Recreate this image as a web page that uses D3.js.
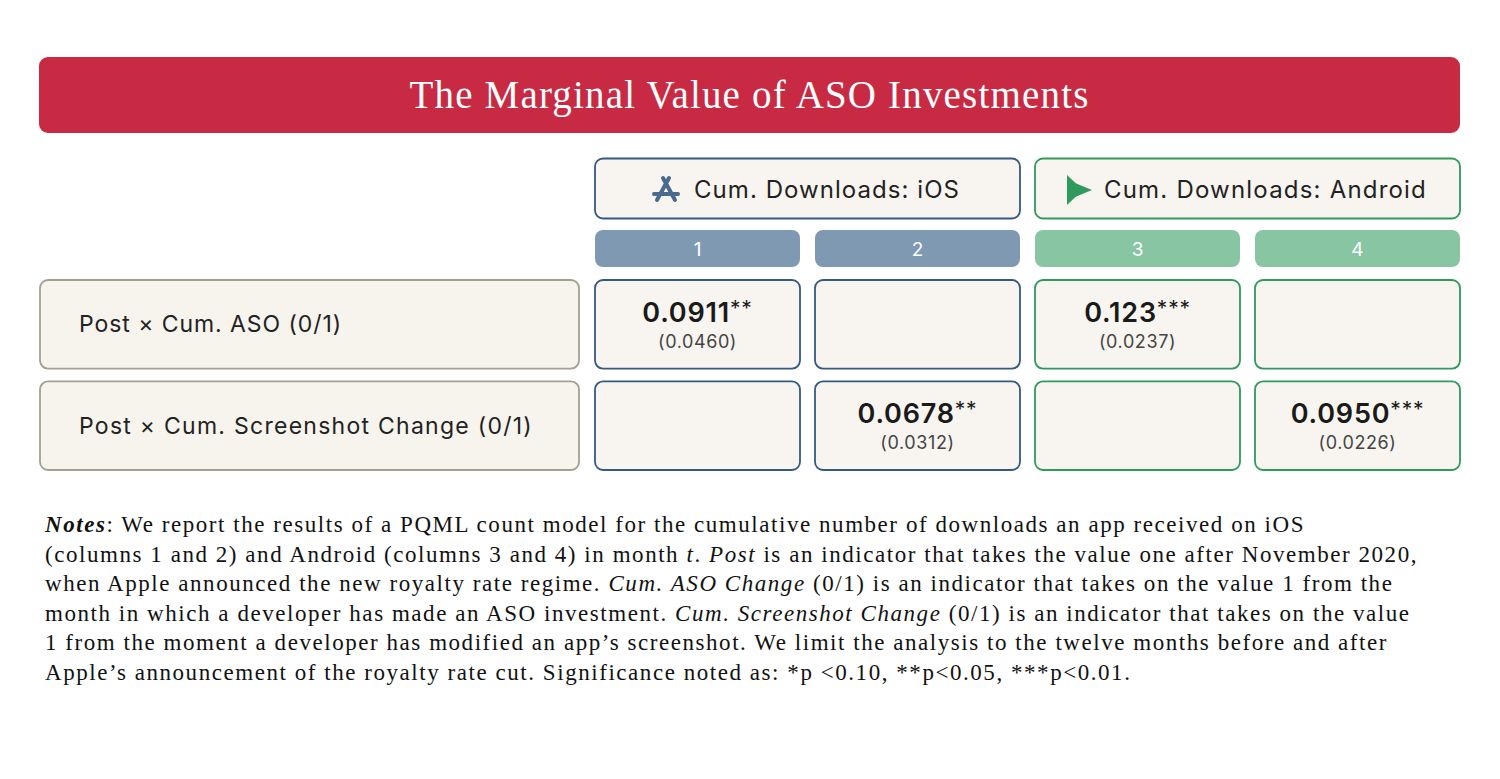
<!DOCTYPE html><html><head><meta charset="utf-8"><script src="https://cdn.jsdelivr.net/npm/d3@7"></script>
<style>body{margin:0;background:#fff}</style></head><body><svg id="c" width="1500" height="779"></svg>
<script>
const title = "The Marginal Value of ASO Investments";
const groups = ["Cum. Downloads: iOS","Cum. Downloads: Android"];
const columns = ["1","2","3","4"];
const rows = ["Post × Cum. ASO (0/1)","Post × Cum. Screenshot Change (0/1)"];
const coefs = [["0.0911","","0.123",""],["","0.0678","","0.0950"]];
const stars = [["**","","***",""],["","**","","***"]];
const ses = [["(0.0460)","","(0.0237)",""],["","(0.0312)","","(0.0226)"]];
const notes = [
 [["b","Notes"],["n",": We report the results of a PQML count model for the cumulative number of downloads an app received on iOS"]],
 [["n","(columns 1 and 2) and Android (columns 3 and 4) in month "],["i","t"],["n",". "],["i","Post"],["n"," is an indicator that takes the value one after November 2020,"]],
 [["n","when Apple announced the new royalty rate regime. "],["i","Cum. ASO Change"],["n"," (0/1) is an indicator that takes on the value 1 from the"]],
 [["n","month in which a developer has made an ASO investment. "],["i","Cum. Screenshot Change"],["n"," (0/1) is an indicator that takes on the value"]],
 [["n","1 from the moment a developer has modified an app’s screenshot. We limit the analysis to the twelve months before and after"]],
 [["n","Apple’s announcement of the royalty rate cut. Significance noted as: *p <0.10, **p<0.05, ***p<0.01."]]
];
const svg = d3.select("#c");
const serif = "'Liberation Serif','DejaVu Serif',serif";
const sans = "Inter,'Noto Sans',sans-serif";
const stroke = ["#36597f","#36597f","#2f9a5c","#2f9a5c"];
const fillBar = ["#8099b2","#8099b2","#88c5a3","#88c5a3"];
const colW = 205, colX = c => 595 + (+c-1)*220;
const y = d3.scaleBand().domain(rows).range([280,470]).paddingInner(12/95);
function spread(t, w){ const n=t.text().length; const cur=t.node().getComputedTextLength(); t.attr("letter-spacing",(w-cur)/n); }
// title
svg.append("rect").attr("x",39).attr("y",57).attr("width",1421).attr("height",76).attr("rx",9).attr("fill","#c92a43");
const tt = svg.append("text").attr("x",749.5).attr("y",108).attr("text-anchor","middle").attr("fill","#fff").attr("font-family",serif).attr("font-size",39).text(title);
spread(tt,680);
// group headers
groups.forEach((g,i)=>{
  const gx = 595+i*440;
  svg.append("rect").attr("x",gx).attr("y",158.5).attr("width",425).attr("height",60).attr("rx",8).attr("fill","#f8f5f0").attr("stroke",stroke[i*2]).attr("stroke-width",1.8);
  const tx = i==0?694:1104;
  const t = svg.append("text").attr("x",tx).attr("y",198).attr("font-family",sans).attr("font-size",24).attr("fill","#222").text(g);
  spread(t, i==0?266:323);
  if(i==0){
    const ic = svg.append("g").attr("transform","translate(666,190)").attr("stroke","#4a6a8e").attr("stroke-width",4).attr("stroke-linecap","round").attr("fill","none");
    ic.append("path").attr("d","M-3,-12 L9,10 M3,-12 L-9,10 M-12,4 L12,4");
  } else {
    svg.append("path").attr("d","M1067,175 L1067,205 L1083,190 Z").attr("fill","#2f9a5c");
    svg.append("path").attr("d","M1075,183 L1092,190 L1075,197 Z").attr("fill","#2f9a5c");
  }
});
columns.forEach((c,j)=>{
  svg.append("rect").attr("x",colX(c)).attr("y",230).attr("width",colW).attr("height",37).attr("rx",8).attr("fill",fillBar[j]);
  svg.append("text").attr("x",colX(c)+colW/2).attr("y",256).attr("text-anchor","middle").attr("font-family",sans).attr("font-size",19).attr("fill","#fff").text(c);
});
rows.forEach((r,i)=>{
  const ry = y(r), h = y.bandwidth();
  svg.append("rect").attr("x",40).attr("y",ry).attr("width",539).attr("height",h).attr("rx",8).attr("fill","#f7f4ee").attr("stroke","#a3a092").attr("stroke-width",1.8);
  const t = svg.append("text").attr("x",79).attr("y",ry+h/2+8).attr("font-family",sans).attr("font-size",23).attr("fill","#222").text(r);
  spread(t, i==0?263:454);
  columns.forEach((c,j)=>{
    svg.append("rect").attr("x",colX(c)).attr("y",ry).attr("width",colW).attr("height",h).attr("rx",8).attr("fill","#f8f5f0").attr("stroke",stroke[j]).attr("stroke-width",1.8);
    if(coefs[i][j]){
      const t = svg.append("text").attr("x",colX(c)+colW/2).attr("y",ry+42).attr("text-anchor","middle").attr("font-family",sans).attr("fill","#1a1a1a").attr("letter-spacing",0.8);
      t.append("tspan").attr("font-size",27).attr("font-weight",600).text(coefs[i][j]);
      t.append("tspan").attr("font-size",21).attr("dy",-6).text(stars[i][j]);
      svg.append("text").attr("x",colX(c)+colW/2).attr("y",ry+68).attr("text-anchor","middle").attr("font-family",sans).attr("font-size",18).attr("letter-spacing",0.6).attr("fill","#444").text(ses[i][j]);
    }
  });
});
// notes: letter spacing chosen so first line spans like the reference
let ls = 0;
notes.forEach((line,k)=>{
  const t = svg.append("text").attr("x",45).attr("y",532+k*29.5).attr("font-family",serif).attr("font-size",23).attr("fill","#111");
  line.forEach(([s,txt])=>{
    const ts = t.append("tspan").text(txt);
    if(s=="b") ts.attr("font-weight","bold").attr("font-style","italic");
    if(s=="i") ts.attr("font-style","italic");
  });
  if(k==0){ spread(t,1260); ls = +t.attr("letter-spacing"); } else t.attr("letter-spacing",ls);
});
</script></body></html>
